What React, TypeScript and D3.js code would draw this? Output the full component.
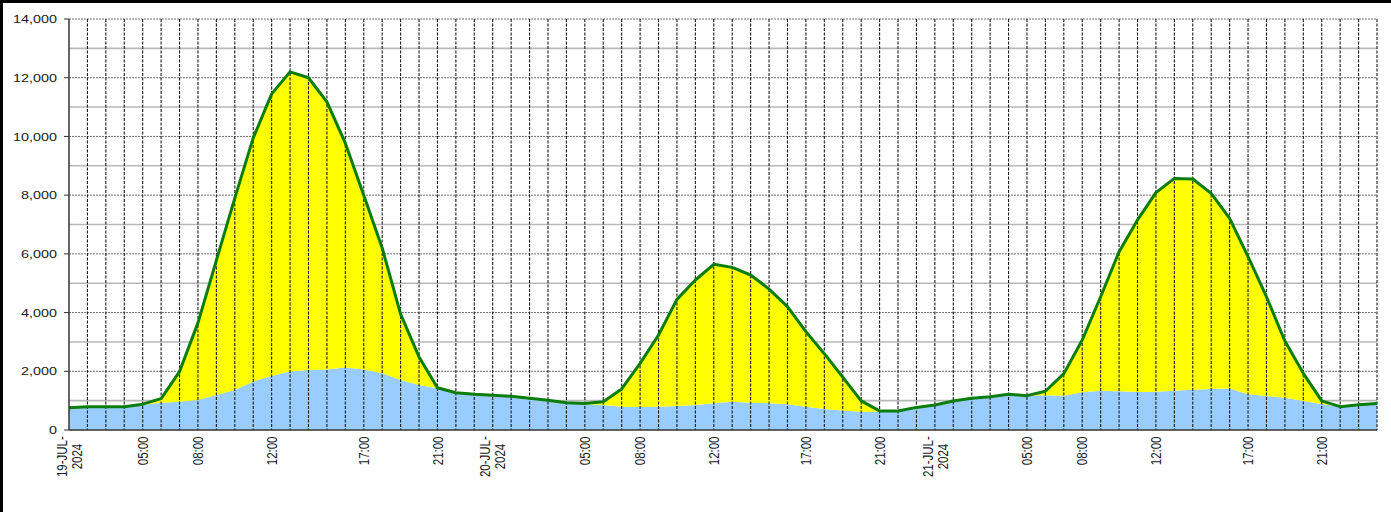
import React from 'react';
import * as d3 from 'd3';

// hourly readings, 19-21 Jul 2024 (first day is missing one hour)
const totalLoad = [
  760, 795, 790, 790, 880, 1070, 1990, 3650, 5780, 7900, 9950, 11450, 12200, 12000, 11180, 9770, 8000, 6200, 3950, 2490, 1440, 1270, 1215,
  1180, 1150, 1080, 1010, 930, 900, 965, 1400, 2270, 3235, 4450, 5110, 5645, 5540, 5280, 4800, 4200, 3350, 2600, 1800, 990, 650, 650, 770,
  850, 990, 1080, 1135, 1215, 1170, 1320, 1920, 3065, 4540, 6075, 7155, 8085, 8570, 8550, 8060, 7210, 5905, 4540, 3030, 1930, 990, 795, 860, 900,
];

const baseLoad = [
  740, 780, 780, 780, 860, 930, 965, 1020, 1190, 1360, 1650, 1840, 1990, 2045, 2065, 2125, 2065, 1930, 1700, 1530, 1420, 1260, 1200,
  1150, 1130, 1060, 990, 910, 870, 850, 795, 785, 795, 820, 850, 910, 965, 930, 910, 875, 795, 715, 660, 625, 625, 630, 740,
  840, 965, 1075, 1130, 1190, 1165, 1180, 1170, 1285, 1340, 1320, 1295, 1305, 1340, 1375, 1400, 1410, 1215, 1160, 1100, 990, 885, 790, 845, 885,
];

const tickIndex = [0, 4, 7, 11, 16, 20, 23, 28, 31, 35, 40, 44, 47, 52, 55, 59, 64, 68];
const tickLabel = [
  '19-JUL-\n2024', '05:00', '08:00', '12:00', '17:00', '21:00',
  '20-JUL-\n2024', '05:00', '08:00', '12:00', '17:00', '21:00',
  '21-JUL-\n2024', '05:00', '08:00', '12:00', '17:00', '21:00',
];

const yMax = 14000;
const yTicks = d3.range(0, yMax + 1, 2000);
const yMinor = d3.range(1000, yMax, 2000);

const App: React.FC = () => {
  const width = 1391;
  const height = 512;
  const left = 69;
  const right = 1377;
  const top = 19;
  const bottom = 430;
  const sx = 1.25; // picture is stretched sideways

  const n = totalLoad.length;
  const x = d3.scaleLinear().domain([0, n - 1]).range([left, right]);
  const y = d3.scaleLinear().domain([0, yMax]).range([bottom, top]);
  const fmt = d3.format(',');

  const idx = d3.range(n);

  const blueArea = d3.area<number>()
    .x(i => x(i))
    .y0(y(0))
    .y1(i => y(baseLoad[i]))(idx) || '';

  const yellowArea = d3.area<number>()
    .x(i => x(i))
    .y0(i => y(baseLoad[i]))
    .y1(i => y(totalLoad[i]))(idx) || '';

  const totalLine = d3.line<number>()
    .x(i => x(i))
    .y(i => y(totalLoad[i]))(idx) || '';

  const font = '"Liberation Sans", Arial, sans-serif';

  return (
    <svg
      width={width}
      height={height}
      style={{ position: 'absolute', left: 0, top: 0, background: '#fff' }}
      fontFamily={font}
    >
      <rect x={0} y={0} width={width} height={height} fill="#fff" />

      {/* horizontal grid, under the areas */}
      {yMinor.map(v => (
        <line key={'mn' + v} x1={left} x2={right} y1={y(v)} y2={y(v)} stroke="#b8b8b8" strokeWidth={1.6} />
      ))}
      {yTicks.filter(v => v > 0).map(v => (
        <line key={'mj' + v} x1={left} x2={right} y1={y(v)} y2={y(v)} stroke="#6e6e6e" strokeWidth={1} strokeDasharray="2,1" />
      ))}

      <path d={blueArea} fill="#99ccff" />
      <path d={yellowArea} fill="#ffff00" />

      {/* vertical hourly grid drawn on top of the fills */}
      {idx.filter(i => i > 0).map(i => (
        <line key={'v' + i} x1={x(i)} x2={x(i)} y1={top} y2={bottom} stroke="#1a1a1a" strokeWidth={1.1} strokeDasharray="3,1.5" />
      ))}

      <path d={totalLine} fill="none" stroke="#0a7d0a" strokeWidth={3} strokeLinejoin="round" />

      {/* axes */}
      <line x1={left} x2={left} y1={top} y2={bottom} stroke="#333" strokeWidth={1.5} />
      <line x1={left} x2={right} y1={bottom} y2={bottom} stroke="#333" strokeWidth={1.5} />
      {yTicks.map(v => (
        <g key={'yt' + v}>
          <line x1={left - 5} x2={left} y1={y(v)} y2={y(v)} stroke="#333" strokeWidth={1} />
          <text
            transform={`translate(57,${y(v)}) scale(${sx},1)`}
            textAnchor="end"
            dy="0.36em"
            fontSize={11.5}
            fill="#1a1a1a"
          >
            {fmt(v)}
          </text>
        </g>
      ))}

      {tickIndex.map((ti, k) => {
        const lines = tickLabel[k].split('\n');
        if (lines.length === 1) {
          return (
            <text
              key={'xt' + k}
              transform={`translate(${x(ti)},436.5) scale(${sx},1) rotate(-90)`}
              textAnchor="end"
              dy="0.36em"
              fontSize={11.5}
              fill="#1a1a1a"
            >
              {lines[0]}
            </text>
          );
        }
        return (
          <g key={'xt' + k} transform={`translate(${x(ti)},456.6) scale(${sx},1) rotate(-90)`}>
            {lines.map((t, j) => (
              <text key={j} textAnchor="middle" y={(j - (lines.length - 1) / 2) * 12} dy="0.36em" fontSize={11.5} fill="#1a1a1a">
                {t}
              </text>
            ))}
          </g>
        );
      })}

      {/* frame remnants */}
      <rect x={0} y={0} width={width} height={3} fill="#000" />
      <rect x={0} y={0} width={3} height={height} fill="#000" />
    </svg>
  );
};

export default App;
